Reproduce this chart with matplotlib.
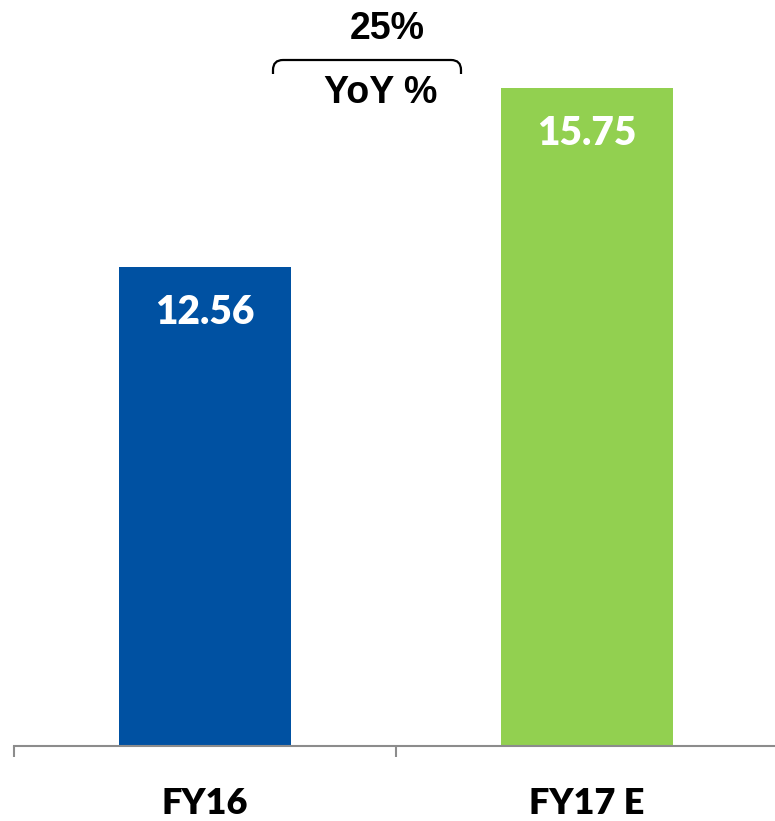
import matplotlib
matplotlib.use('agg')
import matplotlib.pyplot as plt
from matplotlib.path import Path
from matplotlib.patches import PathPatch

categories = ['FY16', 'FY17 E']
values = [12.56, 15.75]
colors = ['#0051A2', '#92D050']
yoy_label = '25%'
yoy_caption = 'YoY %'

W, H = 775, 821
fig = plt.figure(figsize=(W / 100, H / 100), dpi=100)
ax = fig.add_axes([14 / W, 1 - 746 / H, 764 / W, 746 / H])

x = range(len(categories))
ax.bar(x, values, width=0.45, color=colors, zorder=2)
for i, v in enumerate(values):
    ax.text(i, v - 0.48, '%.2f' % v, ha='center', va='top', color='white',
            fontsize=28, fontweight='heavy', family='Lato')

ax.set_xlim(-0.5, 1.5)
ax.set_ylim(4.025, 17.32)
for s in ['top', 'right', 'left']:
    ax.spines[s].set_visible(False)
ax.spines['bottom'].set_color('#8C8C8C')
ax.spines['bottom'].set_linewidth(1.5)
ax.set_yticks([])
ax.set_xticks([-0.5, 0.5, 1.5])
ax.set_xticklabels([])
ax.tick_params(axis='x', length=8, width=1.5, color='#8C8C8C')
for i, c in enumerate(categories):
    ax.text(i, -0.077, c, transform=ax.get_xaxis_transform(), ha='center',
            va='center', fontsize=26, fontweight='heavy', family='Lato')

# bracket over the gap
def fp(px, py):
    return (px / W, 1 - py / H)

x0, x1, yt, yb, r = 273, 461, 60, 74, 10
verts = [fp(x0, yb), fp(x0, yt + r), fp(x0, yt), fp(x0 + r, yt),
         fp(x1 - r, yt), fp(x1, yt), fp(x1, yt + r), fp(x1, yb)]
codes = [Path.MOVETO, Path.LINETO, Path.CURVE3, Path.CURVE3,
         Path.LINETO, Path.CURVE3, Path.CURVE3, Path.LINETO]
fig.patches.append(PathPatch(Path(verts, codes), transform=fig.transFigure,
                             fill=False, lw=1.6, color='black'))
fig.text(387 / W, 1 - 29 / H, yoy_label, ha='center', va='center',
         fontsize=27, fontweight='bold', family='Liberation Sans')
fig.text(381 / W, 1 - 93 / H, yoy_caption, ha='center', va='center',
         fontsize=27, fontweight='bold', family='Liberation Sans')

plt.savefig('out.png', dpi=100)
plt.close()
